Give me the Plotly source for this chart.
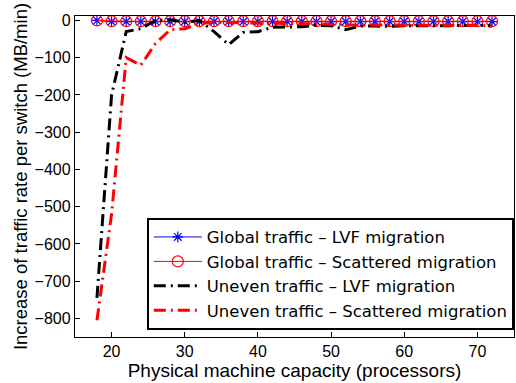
import plotly.graph_objects as go

x_cap = list(range(18, 73, 2))

global_lvf = [0, -3, -3, -3, -3, -3, -3, -3, -3, -3, -3, -3, -3, -3,
              -3, -3, -3, -3, -3, -3, -3, -3, -3, -3, -3, -3, -3, -3]
global_scattered = [0, -2, -2, -2, -2, -2, -2, -2, -2, -2, -2, -2, -2, -2,
                    -2, -2, -2, -2, -2, -2, -2, -2, -2, -2, -2, -2, -2, -2]
uneven_lvf = [-745, -200, -30, -22, 0, 2, -5, 0, -30, -65, -32, -30, -18, -17,
              -17, -13, -14, -25, -15, -15, -16, -14, -13, -14, -14, -13, -13, -15]
uneven_scattered = [-805, -520, -100, -120, -62, -25, -22, -8, -5, -6, -6, -7, -9, -9,
                    -9, -9, -10, -13, -13, -12, -12, -12, -12, -14, -12, -12, -14, -14]

names = ["Global traffic \u2013 LVF migration",
         "Global traffic \u2013 Scattered migration",
         "Uneven traffic \u2013 LVF migration",
         "Uneven traffic \u2013 Scattered migration"]

x_ticks = [20, 30, 40, 50, 60, 70]
y_ticks = [0, -100, -200, -300, -400, -500, -600, -700, -800]

FONT = "Liberation Sans, Arial, Helvetica, sans-serif"
LEGEND_FONT = "DejaVu Sans, Liberation Sans, sans-serif"

fig = go.Figure()
fig.add_trace(go.Scatter(
    x=x_cap, y=global_lvf, name=names[0], mode="lines+markers",
    line=dict(color="#0000ff", width=1),
    marker=dict(symbol="asterisk-open", size=9, line=dict(color="#0000ff", width=1.2))))
fig.add_trace(go.Scatter(
    x=x_cap, y=global_scattered, name=names[1], mode="lines+markers",
    line=dict(color="#ff0000", width=1),
    marker=dict(symbol="circle-open", size=11, color="#ff0000", line=dict(color="#ff0000", width=1.2))))
fig.add_trace(go.Scatter(
    x=x_cap, y=uneven_lvf, name=names[2], mode="lines",
    line=dict(color="#000000", width=3, dash="12px,5px,2px,5px")))
fig.add_trace(go.Scatter(
    x=x_cap, y=uneven_scattered, name=names[3], mode="lines",
    line=dict(color="#ff0000", width=3, dash="12px,5px,2px,5px")))

axis_common = dict(
    showgrid=False, zeroline=False, showline=True, linecolor="black", linewidth=1.3,
    mirror=True, ticks="inside", ticklen=5, tickcolor="black", tickwidth=1,
    tickfont=dict(family=FONT, size=16, color="black"),
)
fig.update_xaxes(range=[15, 75], tickvals=x_ticks, ticktext=[str(v) for v in x_ticks],
                 title=dict(text="Physical machine capacity (processors)",
                            font=dict(family=FONT, size=19, color="black"), standoff=0),
                 **axis_common)
fig.update_yaxes(range=[-850, 12], tickvals=y_ticks,
                 title=dict(text="Increase of traffic rate per switch (MB/min)",
                            font=dict(family=FONT, size=18.5, color="black"), standoff=2),
                 **axis_common)

fig.update_layout(
    width=516, height=383,
    margin=dict(l=75, r=2, t=16, b=46),
    paper_bgcolor="white", plot_bgcolor="white",
    font=dict(family=FONT, size=16, color="black"),
    legend=dict(x=0.164, y=0.022, xanchor="left", yanchor="bottom",
                bgcolor="white", bordercolor="black", borderwidth=1.8,
                font=dict(family=LEGEND_FONT, size=16.5, color="black"),
                itemwidth=48, tracegroupgap=0),
    showlegend=True,
)

fig.write_html("out.html")
